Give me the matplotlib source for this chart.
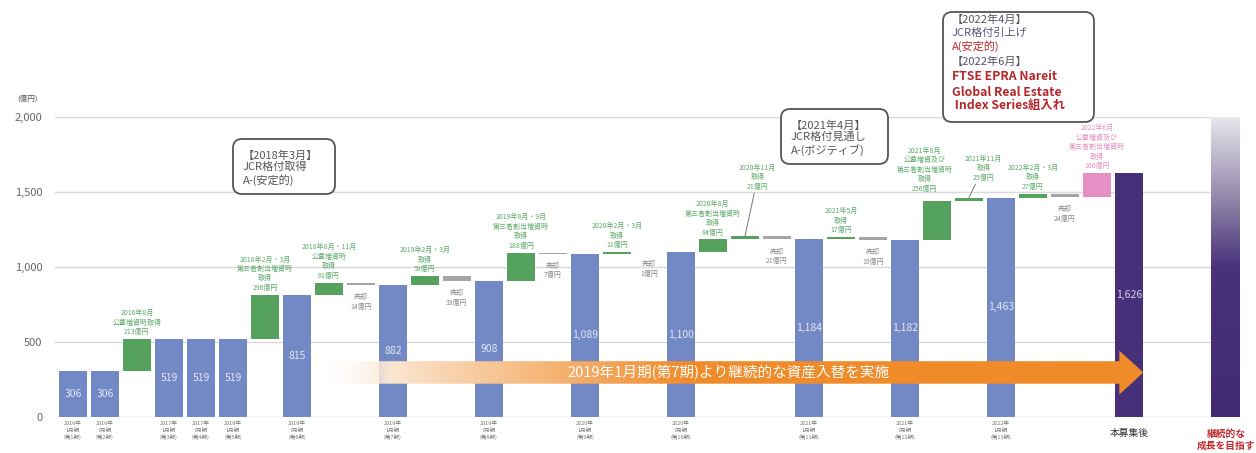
import numpy as np
import matplotlib.pyplot as plt
from matplotlib.patches import Polygon, FancyBboxPatch
from matplotlib.colors import LinearSegmentedColormap, to_rgb

plt.rcParams['font.family'] = ['Noto Sans CJK JP', 'DejaVu Sans']

# 各スロットの種類と値 (億円)
kinds = ['total', 'total', 'up', 'total', 'total', 'total', 'up', 'total', 'up', 'down',
         'total', 'up', 'down', 'total', 'up', 'down', 'total', 'up', 'down', 'total',
         'up', 'up', 'down', 'total', 'up', 'down', 'total', 'up', 'up', 'total',
         'up', 'down', 'new', 'final', '', '', 'goal']
values = [306, 306, 213, 519, 519, 519, 296, 815, 81, 14,
          882, 59, 33, 908, 188, 7, 1089, 11, 1, 1100,
          84, 21, 21, 1184, 17, 19, 1182, 256, 25, 1463,
          27, 24, 160, 1626, 0, 0, 2000]
tick_labels = ['2016年\n1月期\n(第1期)', '2016年\n7月期\n(第2期)', '',
               '2017年\n1月期\n(第3期)', '2017年\n7月期\n(第4期)', '2018年\n1月期\n(第5期)', '',
               '2018年\n7月期\n(第6期)', '', '', '2019年\n1月期\n(第7期)', '', '',
               '2019年\n7月期\n(第8期)', '', '', '2020年\n1月期\n(第9期)', '', '',
               '2020年\n7月期\n(第10期)', '', '', '', '2021年\n1月期\n(第11期)', '', '',
               '2021年\n7月期\n(第12期)', '', '', '2022年\n1月期\n(第13期)', '', '', '',
               '', '', '', '']
notes = {2: '2016年8月\n公募増資時取得',
         6: '2018年2月・3月\n第三者割当増資時\n取得',
         8: '2018年8月・11月\n公募増資時\n取得',
         9: '売却',
         11: '2019年2月・3月\n取得',
         12: '売却',
         14: '2019年8月・9月\n第三者割当増資時\n取得',
         15: '売却',
         17: '2020年2月・3月\n取得',
         18: '売却',
         20: '2020年8月\n第三者割当増資時\n取得',
         21: '2020年11月\n取得',
         22: '売却',
         24: '2021年5月\n取得',
         25: '売却',
         27: '2021年8月\n公募増資及び\n第三者割当増資時\n取得',
         28: '2021年11月\n取得',
         30: '2022年2月・3月\n取得',
         31: '売却',
         32: '2022年6月\n公募増資及び\n第三者割当増資時\n取得'}
leader_notes = {21: (21.4, 1510), 28: (28.45, 1570)}
note_shift = {27: (-9, 6)}

c_blue = '#7289C6'
c_green = '#55A25F'
c_gray = '#A5A5A5'
c_pink = '#E68FC4'
c_purple = '#47307A'
c_note = '#5DAA6B'
note_fs = 5.0

fig = plt.figure(figsize=(12.56, 4.53), dpi=100)
ax = fig.add_axes([55 / 1256, 1 - 417 / 453, 1185 / 1256, 300 / 453])
x = np.arange(len(values))
w = 0.88

level = 0
for i, (k, v) in enumerate(zip(kinds, values)):
    if k == 'total' or k == 'final':
        col = c_blue if k == 'total' else c_purple
        ax.bar(i, v, w, color=col, zorder=2)
        ax.text(i, v / 2, f'{v:,}', color='white', alpha=0.8, ha='center', va='center',
                fontsize=7.5, zorder=3)
        level = v
    elif k in ('up', 'new'):
        col = c_green if k == 'up' else c_pink
        ax.bar(i, v, w, bottom=level, color=col, zorder=2)
        top = level + v
        level = top
        txt = notes[i] + f'\n{v}億円'
        tcol = c_note if k == 'up' else '#E58FC2'
        if i in leader_notes:
            ax.annotate(txt, xy=(i, top), xytext=leader_notes[i], ha='center', va='bottom',
                        fontsize=note_fs, color=c_note, linespacing=1.25,
                        arrowprops=dict(arrowstyle='-', color='#666666', lw=0.6, shrinkA=0, shrinkB=0))
        else:
            ax.annotate(txt, xy=(i, top), xytext=note_shift.get(i, (0, 2)),
                        textcoords='offset points', ha='center', va='bottom',
                        fontsize=note_fs, color=tcol, linespacing=1.25)
    elif k == 'down':
        level = level - v
        ax.bar(i, max(v, 2), w, bottom=level, color=c_gray, zorder=2)
        ax.annotate(notes[i] + f'\n{v}億円', xy=(i, level), xytext=(0, -6),
                    textcoords='offset points', ha='center', va='top', fontsize=note_fs,
                    color='#888888', linespacing=1.25)

# 継続的な成長 (グラデーションバー)
gi = kinds.index('goal')
cmap = LinearSegmentedColormap.from_list('goal', [(0, '#432B72'), (0.5, '#48327A'),
                                                  (0.72, '#8E84A8'), (1, '#E8E6EC')])
grad = np.linspace(0, 1, 256).reshape(-1, 1)
ax.imshow(grad, cmap=cmap, origin='lower', aspect='auto', zorder=2,
          extent=[gi - w / 2, gi + w / 2, 0, values[gi]])

# オレンジの矢印
x0, xh, xt = 7.8, 32.7, 33.45
b0, b1, h0, h1 = 222, 372, 150, 442
ym = (b0 + b1) / 2
t = np.linspace(0, 1, 400)
orange = np.array(to_rgb('#F08B2A'))
ramp = np.clip(t / 0.45, 0, 1)[:, None] ** 0.9
rgb = np.ones((400, 3)) * (1 - ramp) + orange * ramp
alpha = np.clip(t / 0.08, 0, 1)
img = np.column_stack([rgb, alpha])[None, :, :].repeat(2, axis=0)
im = ax.imshow(img, extent=[x0, xt, h0, h1], aspect='auto', zorder=5)
arrow = Polygon([(x0, b0), (xh, b0), (xh, h0), (xt, ym), (xh, h1), (xh, b1), (x0, b1)],
                closed=True, fc='none', ec='none', transform=ax.transData)
ax.add_patch(arrow)
im.set_clip_path(arrow)
ax.text(20.5, ym, '2019年1月期(第7期)より継続的な資産入替を実施', color='white',
        fontsize=10.5, ha='center', va='center', zorder=6)

ax.set_xlim(-0.56, 36.47)
ax.set_ylim(0, 2000)
ax.set_yticks([0, 500, 1000, 1500, 2000])
ax.set_yticklabels(['0', '500', '1,000', '1,500', '2,000'], fontsize=8, color='#666666')
ax.yaxis.grid(True, color='#D9D9D9', lw=1, zorder=0)
ax.set_axisbelow(True)
ax.tick_params(axis='y', length=0, pad=9)
ax.set_xticks(x)
ax.set_xticklabels(tick_labels, fontsize=4.0, color='#777777', linespacing=1.35)
ax.tick_params(axis='x', length=0, pad=3)
for s in ax.spines.values():
    s.set_visible(False)

fig.text(17 / 1256, 1 - 99 / 453, '(億円)', fontsize=5.5, color='#555555', va='center')
fig.text(1129 / 1256, 1 - 433 / 453, '本募集後', fontsize=7, color='#333333',
         ha='center', va='center')
fig.text(1226 / 1256, 1 - 440 / 453, '継続的な\n成長を目指す', fontsize=7, color='#C0282D',
         ha='center', va='center', fontweight='bold', linespacing=1.2)

# 吹き出し枠 (ピクセル座標のオーバーレイ)
ov = fig.add_axes([0, 0, 1, 1], zorder=10)
ov.set_xlim(0, 1256)
ov.set_ylim(453, 0)
ov.axis('off')
boxes = [(233, 139, 102, 55), (781, 109, 107, 55), (943, 12, 151, 110)]
for bx, by, bw, bh in boxes:
    ov.add_patch(FancyBboxPatch((bx, by), bw, bh, boxstyle='round,pad=0,rounding_size=9',
                                fc='white', ec='#555555', lw=1.3))

ov.text(243, 168, '【2018年3月】\nJCR格付取得\nA-(安定的)', fontsize=8, color='#555555',
        va='center', linespacing=1.15)
ov.text(791, 138, '【2021年4月】\nJCR格付見通し\nA-(ポジティブ)', fontsize=8, color='#555555',
        va='center', linespacing=1.15)
lines3 = [('【2022年4月】', '#555566', 'normal', 20),
          ('JCR格付引上げ', '#555577', 'normal', 33),
          ('A(安定的)', '#C0282D', 'normal', 46),
          ('【2022年6月】', '#555566', 'normal', 62),
          ('FTSE EPRA Nareit', '#B5262B', 'bold', 77),
          ('Global Real Estate', '#B5262B', 'bold', 92),
          (' Index Series組入れ', '#B5262B', 'bold', 106)]
for s, c, fw, yy in lines3:
    ov.text(952, yy, s, fontsize=8 if fw == 'normal' else 8.8, color=c, fontweight=fw,
            va='center')

fig.savefig('out.png', dpi=100)
